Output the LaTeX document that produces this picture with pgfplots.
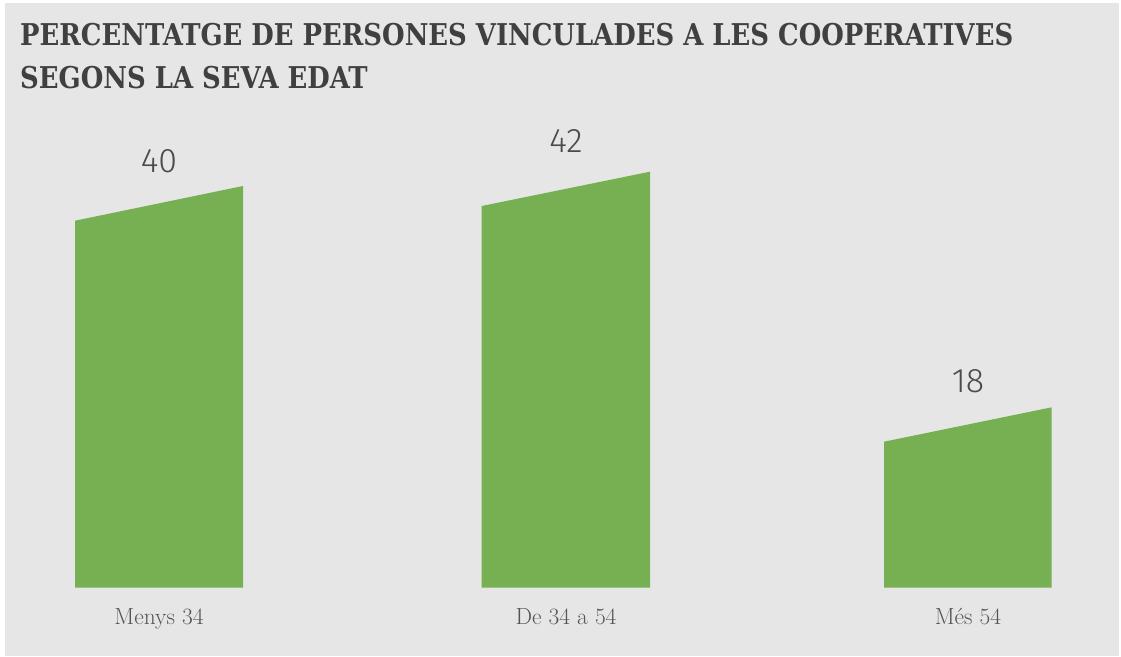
\documentclass[border=0pt]{standalone}
\usepackage{fontspec}
\usepackage{pgfplots}
\pgfplotsset{compat=1.18}
\newfontfamily\titlefont[FakeStretch=0.96]{DejaVu Serif Condensed}
\newfontfamily\numfont{Fira Sans Light}
\definecolor{bgc}{HTML}{E6E6E6}
\definecolor{barg}{HTML}{77B052}
\definecolor{titlec}{HTML}{404040}
\definecolor{labc}{HTML}{555555}
\definecolor{numc}{HTML}{4A4A4A}
\begin{document}
\begin{tikzpicture}[x=1pt,y=1pt]
\useasboundingbox (0,0) rectangle (1121,656);
\fill[white] (0,0) rectangle (1121,656);
\fill[bgc] (5,0) rectangle (1119,653);
\node[anchor=base west, inner sep=0, text=titlec, font=\titlefont\bfseries\fontsize{30}{36}\selectfont] at (20,610.5) {PERCENTATGE DE PERSONES VINCULADES A LES COOPERATIVES};
\node[anchor=base west, inner sep=0, text=titlec, font=\titlefont\bfseries\fontsize{30}{36}\selectfont] at (20,567.5) {SEGONS LA SEVA EDAT};
\begin{axis}[
  at={(0pt,68.3pt)}, anchor=south west,
  scale only axis, width=1121pt, height=587.7pt,
  xmin=0, xmax=1121, ymin=0, ymax=58.77,
  clip=false,
  axis line style={draw=none},
  tick style={draw=none},
  ytick=\empty,
  xtick={159,566,968},
  xticklabels={Menys 34, De 34 a 54, Més 54},
  xticklabel style={anchor=base, yshift=-36.6pt, text=labc, font=\fontsize{23.4}{28}\selectfont},
]
\addplot[fill=barg, draw=none] coordinates {(75,0) (75,36.7) (243,40.17) (243,0)} \closedcycle;
\addplot[fill=barg, draw=none] coordinates {(481.7,0) (481.7,38.17) (650,41.6) (650,0)} \closedcycle;
\addplot[fill=barg, draw=none] coordinates {(884,0) (884,14.6) (1051.7,18.04) (1051.7,0)} \closedcycle;
\addplot[draw=none, mark=none, point meta=explicit symbolic,
  nodes near coords,
  every node near coord/.append style={anchor=base, yshift=15pt, text=numc, font=\numfont\fontsize{34}{40}\selectfont}]
  coordinates {(159,40)[40] (566,42)[42] (968,18)[18]};
\end{axis}
\end{tikzpicture}
\end{document}
